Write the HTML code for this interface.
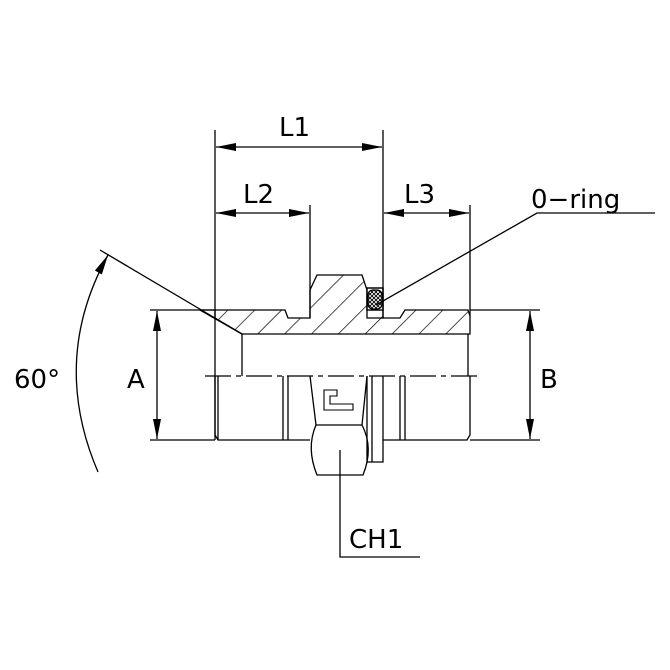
<!DOCTYPE html>
<html><head><style>body{margin:0;background:#fff}svg{display:block}text{font-family:"DejaVu Sans","Liberation Sans",sans-serif;fill:#000}</style></head><body>
<svg width="670" height="670" viewBox="0 0 670 670" xmlns="http://www.w3.org/2000/svg">
<defs>
<pattern id="h" width="19" height="19" patternUnits="userSpaceOnUse" patternTransform="rotate(45)"><line x1="0" y1="0" x2="0" y2="19" stroke="#000" stroke-width="1.4"/></pattern>
<pattern id="x" width="4" height="4" patternUnits="userSpaceOnUse"><path d="M0 0L4 4M4 0L0 4" stroke="#000" stroke-width="0.9"/></pattern>
<marker id="a" viewBox="0 0 20 8" refX="20" refY="4" markerWidth="20" markerHeight="8" orient="auto-start-reverse" markerUnits="userSpaceOnUse"><path d="M0 0L20 4L0 8z"/></marker>
</defs>
<g stroke="#000" stroke-width="1.3" fill="none">
<path d="M215 310H285L288 318H310V290L317 275H362L367 290V310H383V318H400L405 310H468L470 316V334H242L215 318Z" fill="url(#h)"/>
<rect x="367" y="288" width="16" height="22" fill="#fff"/>
<rect x="368" y="290" width="14" height="19" rx="5" fill="url(#x)"/>
<path d="M367 288H383V318H367Z"/>
<path d="M242 334V376M468 334V376"/>
<path d="M200 310L242 334M200 310H215"/>
<path d="M215 376V435L218 440H283V376M218 376V440M288 376V440M283 440H310"/>
<path d="M400 376V440H467L470 435V376M405 376V440M383 440H400"/>
<path d="M310 376L316 425H362L367 376"/>
<path d="M316 425Q306 448 317 475H363Q374 448 362 425"/>
<path d="M367 376V462H383V376M372 376V462"/>
<path d="M324 390H337V396H330V404H353V410H324Z" stroke-width="1.1"/>
<path d="M205 376H480" stroke-dasharray="26,5,5,5"/>
<path d="M215 130V440M383 130V310M310 205V318M470 205V316"/>
<path d="M150 310H215M150 440H215M470 310H540M470 440H540"/>
<path d="M216 147H382" marker-start="url(#a)" marker-end="url(#a)"/>
<path d="M216 213H309" marker-start="url(#a)" marker-end="url(#a)"/>
<path d="M384 213H469" marker-start="url(#a)" marker-end="url(#a)"/>
<path d="M157 311V439" marker-start="url(#a)" marker-end="url(#a)"/>
<path d="M530 311V439" marker-start="url(#a)" marker-end="url(#a)"/>
<path d="M376 305L537 213H655"/>
<path d="M340 450V557H420"/>
<path d="M100 250L242 334"/>
<path d="M98 472Q50 360 108 255" marker-end="url(#a)"/>
</g>
<g font-size="26">
<text x="279" y="136">L1</text>
<text x="243" y="203">L2</text>
<text x="404" y="203">L3</text>
<text x="531" y="208">0−ring</text>
<text x="127" y="388">A</text>
<text x="540" y="388">B</text>
<text x="14" y="388">60°</text>
<text x="349" y="548">CH1</text>
</g>
</svg>
</body></html>
